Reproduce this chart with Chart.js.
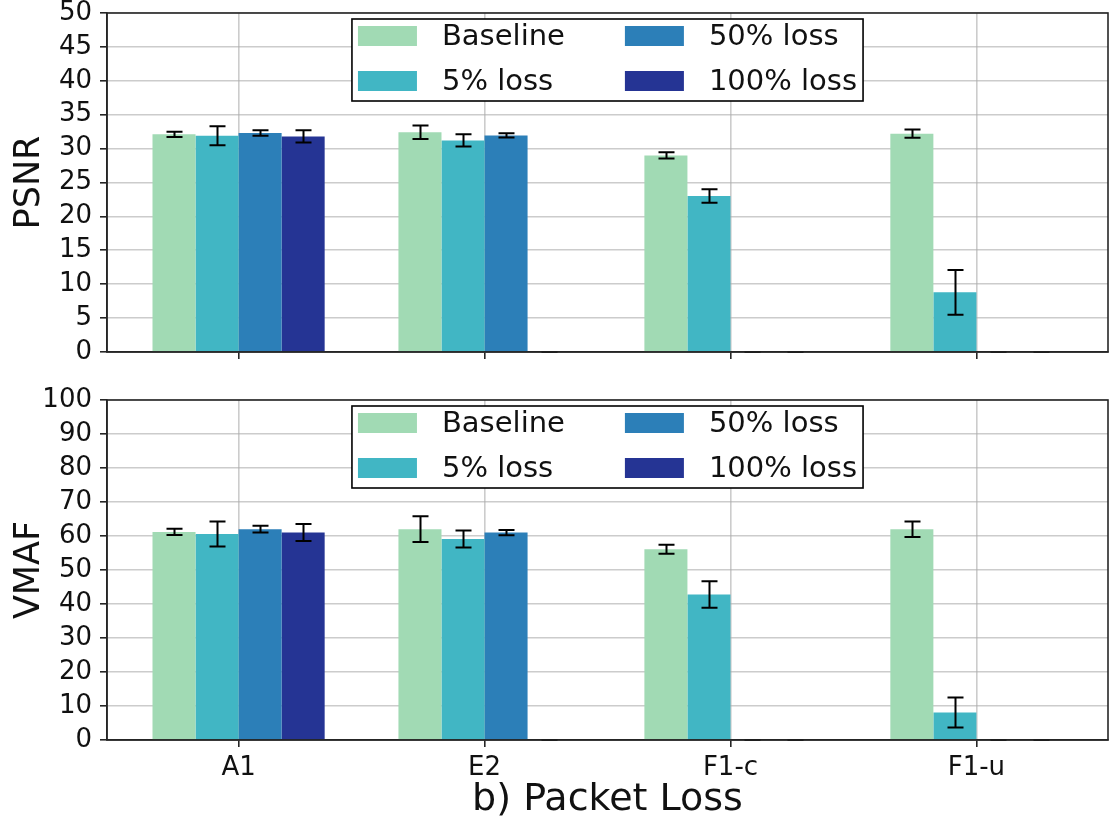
<!DOCTYPE html>
<html>
<head>
<meta charset="utf-8">
<script src="https://cdn.jsdelivr.net/npm/chart.js@4/dist/chart.umd.min.js"></script>
<style>
	body { margin: 0; background: #fff; }
	#wrap { position: relative; width: 1112px; height: 819px; }
	#psnrBox { position: absolute; left: 0; top: 0; }
	#vmafBox { position: absolute; left: 0; top: 385px; }
</style>
</head>
<body>
<div id="wrap">
	<div id="psnrBox"><canvas id="psnrChart" width="1112" height="372"></canvas></div>
	<div id="vmafBox"><canvas id="vmafChart" width="1112" height="434"></canvas></div>
</div>
<script>
const categories = ["A1", "E2", "F1-c", "F1-u"];
const seriesLabels = ["Baseline", "5% loss", "50% loss", "100% loss"];
const seriesColors = ["#a1dab4", "#41b6c4", "#2c7fb8", "#253494"];

// PSNR (mean, error)
const psnrBaseline = [32.1, 32.4, 29.0, 32.2];
const psnrBaselineErr = [0.4, 1.0, 0.45, 0.6];
const psnrLoss5 = [31.9, 31.2, 23.0, 8.8];
const psnrLoss5Err = [1.4, 0.9, 1.0, 3.3];
const psnrLoss50 = [32.3, 31.95, 0, 0];
const psnrLoss50Err = [0.4, 0.3, 0, 0];
const psnrLoss100 = [31.8, 0, 0, 0];
const psnrLoss100Err = [0.9, 0, 0, 0];

// VMAF (mean, error)
const vmafBaseline = [61.2, 62.0, 56.1, 62.0];
const vmafBaselineErr = [0.9, 3.8, 1.3, 2.3];
const vmafLoss5 = [60.6, 59.1, 42.8, 8.1];
const vmafLoss5Err = [3.7, 2.5, 3.9, 4.4];
const vmafLoss50 = [62.0, 61.0, 0, 0];
const vmafLoss50Err = [1.0, 0.8, 0, 0];
const vmafLoss100 = [61.0, 0, 0, 0];
const vmafLoss100Err = [2.5, 0, 0, 0];

const FONT = "'DejaVu Sans', sans-serif";
const GRID = "rgba(170, 170, 170, 0.6)";
const SPINE = "#262626";

// error bars on top of each bar
const errorBarPlugin = {
	id: "errorBars",
	afterDatasetsDraw(chart) {
		const ctx = chart.ctx;
		const yScale = chart.scales.y;
		ctx.save();
		ctx.strokeStyle = "#000";
		ctx.lineWidth = 2;
		chart.data.datasets.forEach((ds, i) => {
			const meta = chart.getDatasetMeta(i);
			meta.data.forEach((bar, j) => {
				const v = ds.data[j].y;
				const e = ds.errors[j];
				const yTop = yScale.getPixelForValue(v + e);
				const yBot = yScale.getPixelForValue(Math.max(v - e, 0));
				const x = Math.round(bar.x) + 0.5;
				ctx.beginPath();
				ctx.moveTo(x, yTop);
				ctx.lineTo(x, yBot);
				ctx.moveTo(x - 8, yTop);
				ctx.lineTo(x + 8, yTop);
				ctx.moveTo(x - 8, yBot);
				ctx.lineTo(x + 8, yBot);
				ctx.stroke();
			});
		});
		ctx.restore();
	}
};

// full box around the plot area + legend in the upper centre
const framePlugin = {
	id: "frameAndLegend",
	afterDraw(chart) {
		const ctx = chart.ctx;
		const a = chart.chartArea;
		ctx.save();
		ctx.strokeStyle = SPINE;
		ctx.lineWidth = 1.6;
		ctx.strokeRect(a.left, a.top, a.right - a.left, a.bottom - a.top);

		ctx.font = "29px " + FONT;
		const pad = 6, sw = 59, sh = 20, gap = 25, colGap = 60;
		const col1 = Math.max(ctx.measureText(seriesLabels[0]).width, ctx.measureText(seriesLabels[1]).width);
		const col2 = Math.max(ctx.measureText(seriesLabels[2]).width, ctx.measureText(seriesLabels[3]).width);
		const w = pad + sw + gap + col1 + colGap + sw + gap + col2 + pad;
		const h = 82;
		const left = (a.left + a.right) / 2 - w / 2;
		const top = a.top + 6;
		ctx.fillStyle = "#fff";
		ctx.fillRect(left, top, w, h);
		ctx.strokeStyle = "#000";
		ctx.lineWidth = 1.6;
		ctx.strokeRect(left, top, w, h);

		const rows = [top + 17, top + 62];
		const cols = [left + pad, left + pad + sw + gap + col1 + colGap];
		seriesLabels.forEach((label, i) => {
			const cx = cols[Math.floor(i / 2)];
			const cy = rows[i % 2];
			ctx.fillStyle = seriesColors[i];
			ctx.fillRect(cx, cy - sh / 2, sw, sh);
			ctx.fillStyle = "#111";
			ctx.textAlign = "left";
			ctx.textBaseline = "middle";
			ctx.fillText(label, cx + sw + gap, cy + 1);
		});
		ctx.restore();
	}
};

function makeDatasets(values, errors) {
	return values.map((vals, i) => ({
		label: seriesLabels[i],
		data: vals.map((v, j) => ({ x: j, y: v })),
		errors: errors[i],
		backgroundColor: seriesColors[i],
		borderWidth: 0,
		categoryPercentage: 0.7,
		barPercentage: 1.0
	}));
}

function makeChart(id, opts) {
	const ctx = document.getElementById(id).getContext("2d");
	return new Chart(ctx, {
		type: "bar",
		data: { datasets: makeDatasets(opts.values, opts.errors) },
		options: {
			responsive: false,
			animation: false,
			devicePixelRatio: 1,
			layout: { padding: { top: opts.padTop, right: 4, left: 0, bottom: 0 } },
			plugins: { legend: { display: false }, tooltip: { enabled: false } },
			scales: {
				x: {
					type: "linear",
					min: -0.535,
					max: 3.535,
					offset: false,
					afterBuildTicks: s => { s.ticks = categories.map((c, i) => ({ value: i })); },
					afterFit: s => { s.height = opts.xHeight; s.paddingLeft = 0; s.paddingRight = 0; },
					grid: { offset: false, color: GRID, lineWidth: 1.6, tickColor: SPINE, tickLength: 7 },
					border: { color: SPINE, width: 1.6 },
					ticks: {
						display: opts.showX,
						autoSkip: false,
						callback: v => categories[v],
						color: "#111",
						font: { family: FONT, size: 26 },
						padding: 6,
						maxRotation: 0
					},
					title: {
						display: opts.showX,
						text: "b) Packet Loss",
						color: "#111",
						font: { family: FONT, size: 38, lineHeight: 1 },
						padding: 0
					}
				},
				y: {
					min: 0,
					max: opts.yMax,
					afterFit: s => { s.width = 107; s.paddingTop = 0; s.paddingBottom = 0; },
					grid: { color: GRID, lineWidth: 1.6, tickColor: SPINE, tickLength: 7 },
					border: { color: SPINE, width: 1.6 },
					ticks: {
						stepSize: opts.yStep,
						autoSkip: false,
						count: opts.yMax / opts.yStep + 1,
						color: "#111",
						font: { family: FONT, size: 26, lineHeight: 1 },
						padding: 8
					},
					title: {
						display: true,
						text: opts.yTitle,
						color: "#111",
						font: { family: FONT, size: 35, lineHeight: 1 },
						padding: { top: 12 }
					}
				}
			}
		},
		plugins: [errorBarPlugin, framePlugin]
	});
}

makeChart("psnrChart", {
	values: [psnrBaseline, psnrLoss5, psnrLoss50, psnrLoss100],
	errors: [psnrBaselineErr, psnrLoss5Err, psnrLoss50Err, psnrLoss100Err],
	yMax: 50, yStep: 5, yTitle: "PSNR",
	padTop: 13, xHeight: 20, showX: false
});

makeChart("vmafChart", {
	values: [vmafBaseline, vmafLoss5, vmafLoss50, vmafLoss100],
	errors: [vmafBaselineErr, vmafLoss5Err, vmafLoss50Err, vmafLoss100Err],
	yMax: 100, yStep: 10, yTitle: "VMAF",
	padTop: 15, xHeight: 79, showX: true
});
</script>
</body>
</html>
